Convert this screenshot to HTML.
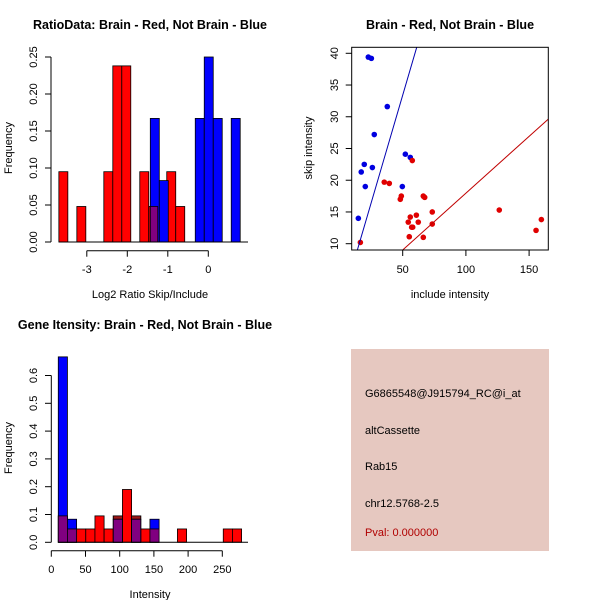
<!DOCTYPE html>
<html><head><meta charset="utf-8"><style>
body{margin:0;background:#fff}
svg{display:block;font-family:"Liberation Sans",Arial,sans-serif}
</style></head><body>
<svg id="s" width="600" height="600" xmlns="http://www.w3.org/2000/svg">
<rect width="600" height="600" fill="#fff"/>
<text x="150" y="29" text-anchor="middle" font-size="12.5" font-weight="bold">RatioData: Brain - Red, Not Brain - Blue</text>
<text x="450" y="29" text-anchor="middle" font-size="12.5" font-weight="bold">Brain - Red, Not Brain - Blue</text>
<text x="145" y="329" text-anchor="middle" font-size="12.5" font-weight="bold">Gene Itensity: Brain - Red, Not Brain - Blue</text>
<g id="p1"></g>
<g id="p2"></g>
<g id="p3"></g>
<g>
<rect x="351" y="349" width="198" height="202" fill="#e6c8c0"/>
<text x="365" y="397" font-size="11">G6865548@J915794_RC@i_at</text>
<text x="365" y="434" font-size="11">altCassette</text>
<text x="365" y="470" font-size="11">Rab15</text>
<text x="365" y="507" font-size="11">chr12.5768-2.5</text>
<text x="365" y="536" font-size="11" fill="#b00000">Pval: 0.000000</text>
</g>
</svg>
<script>
// Panel 1 data
const ratioRedStart=-3.69, ratioBinW=0.222;
const ratioRed=[0.095,0,0.048,0,0,0.095,0.238,0.238,0,0.095,0.048,0,0.095,0.048];
const ratioBlueStart=-1.432;
const ratioBlue=[0.167,0.083,0,0,0,0.167,0.25,0.167,0,0.167];
const ratioYTicks=[0,0.05,0.10,0.15,0.20,0.25];
const ratioYLabels=["0.00","0.05","0.10","0.15","0.20","0.25"];
const ratioXTicks=[-3,-2,-1,0];
// Panel 2 data
const blueX=[22.8,25.2,37.8,27.5,52.1,56.0,19.6,26.0,17.2,20.4,49.7,14.9];
const blueY=[39.4,39.2,31.6,27.2,24.1,23.6,22.5,22.0,21.3,19.0,19.0,14.0];
const redX=[16.5,57.6,35.4,39.4,48.9,48.1,66.3,67.4,73.4,60.8,56.0,54.4,62.3,57.1,57.9,73.4,55.2,66.3,126.4,155.5,159.7];
const redY=[10.2,23.1,19.7,19.5,17.5,17.0,17.5,17.3,15.0,14.5,14.2,13.4,13.4,12.6,12.6,13.1,11.1,11.0,15.3,12.1,13.8];
const blueLine=[-0.6,0.68];
const redLine=[0.06,0.179];
const scXTicks=[50,100,150];
const scYTicks=[10,15,20,25,30,35,40];
// Panel 3 data
const intStart=10.2, intBinW=13.4;
const intRed=[0.095,0.048,0.048,0.048,0.095,0.048,0.095,0.19,0.095,0.048,0.048,0,0,0.048,0,0,0,0,0.048,0.048];
const intBlue=[0.667,0.083,0,0,0,0,0.083,0,0.083,0,0.083];
const intYTicks=[0,0.1,0.2,0.3,0.4,0.5,0.6];
const intYLabels=["0.0","0.1","0.2","0.3","0.4","0.5","0.6"];
const intXTicks=[0,50,100,150,200,250];

const NS="http://www.w3.org/2000/svg";
function el(p,t,a,txt){const e=document.createElementNS(NS,t);for(const k in a)e.setAttribute(k,a[k]);if(txt!==undefined)e.textContent=txt;p.appendChild(e);return e;}

function hist(g,sx,sy,redStart,redW,red,blueStart,blueW,blue){
  const y0=sy(0);
  red.forEach((v,i)=>{if(!v)return;const x0=sx(redStart+i*redW),x1=sx(redStart+(i+1)*redW);
    const r=el(g,'rect',{x:x0,y:sy(v),width:x1-x0,height:y0-sy(v),fill:'#ff0000',stroke:'#000','stroke-width':0.8});
    });
  blue.forEach((v,i)=>{if(!v)return;const a=blueStart+i*blueW,b=a+blueW;const x0=sx(a),x1=sx(b);
    const r=el(g,'rect',{x:x0,y:sy(v),width:x1-x0,height:y0-sy(v),fill:'#0000ff',stroke:'#000','stroke-width':0.8});
    
    red.forEach((rv,j)=>{if(!rv)return;const ra=redStart+j*redW,rb=ra+redW;
      const lo=Math.max(a,ra),hi=Math.min(b,rb);if(hi-lo<blueW*0.5)return;
      const m=Math.min(v,rv);
      if(rv>v){const s=el(g,'rect',{x:sx(lo),y:sy(rv),width:sx(hi)-sx(lo),height:sy(v)-sy(rv),fill:'#a01818',stroke:'#000','stroke-width':0.8});
        }
      const o=el(g,'rect',{x:sx(lo),y:sy(m),width:sx(hi)-sx(lo),height:y0-sy(m),fill:'#800080',stroke:'#000','stroke-width':0.8});
      });
  });
}

// Panel 1
(function(){
  const g=document.getElementById('p1');
  const sx=v=>208.3+v*40.5, sy=v=>242-v*740;
  hist(g,sx,sy,ratioRedStart,ratioBinW,ratioRed,ratioBlueStart,ratioBinW,ratioBlue);
  el(g,'line',{x1:58.7,x2:248,y1:242,y2:242,stroke:'#000'});
  el(g,'line',{x1:51,x2:51,y1:sy(0),y2:sy(0.25),stroke:'#000'});
  ratioYTicks.forEach((t,i)=>{el(g,'line',{x1:45,x2:51,y1:sy(t),y2:sy(t),stroke:'#000'});
    const tx=el(g,'text',{x:37,y:sy(t),'font-size':11,'text-anchor':'middle',transform:`rotate(-90 37 ${sy(t)})`},ratioYLabels[i]);
    });
  const ay=250.7;
  el(g,'line',{x1:sx(ratioXTicks[0]),x2:sx(ratioXTicks[ratioXTicks.length-1]),y1:ay,y2:ay,stroke:'#000'});
  ratioXTicks.forEach(t=>{el(g,'line',{x1:sx(t),x2:sx(t),y1:ay,y2:ay+6,stroke:'#000'});
    const tx=el(g,'text',{x:sx(t),y:273,'font-size':11,'text-anchor':'middle'},String(t));
    });
  const xl=el(g,'text',{x:150,y:298,'font-size':11,'text-anchor':'middle'},'Log2 Ratio Skip/Include');
  
  const yl=el(g,'text',{x:12,y:148,'font-size':11,'text-anchor':'middle',transform:'rotate(-90 12 148)'},'Frequency');
  
})();

// Panel 2
(function(){
  const g=document.getElementById('p2');
  const L=351.7,R=548.3,T=47.3,B=250;
  const sx=v=>339.5+v*1.264, sy=v=>243.7-(v-10)*6.347;
  const xmin=(L-339.5)/1.264,xmax=(R-339.5)/1.264;
  el(g,'defs',{}).innerHTML='<clipPath id="c2"><rect x="351.7" y="47.3" width="196.6" height="202.7"/></clipPath>';
  const cg=el(g,'g',{'clip-path':'url(#c2)'});
  blueX.forEach((x,i)=>{const c=el(cg,'circle',{cx:sx(x),cy:sy(blueY[i]),r:2.8,fill:'#0000e0'});
    });
  redX.forEach((x,i)=>{const c=el(cg,'circle',{cx:sx(x),cy:sy(redY[i]),r:2.8,fill:'#e00000'});
    });
  const bl=el(cg,'line',{x1:sx(xmin),y1:sy(blueLine[0]+blueLine[1]*xmin),x2:sx(xmax),y2:sy(blueLine[0]+blueLine[1]*xmax),stroke:'#0000b0','stroke-width':1});
  
  const rl=el(cg,'line',{x1:sx(xmin),y1:sy(redLine[0]+redLine[1]*xmin),x2:sx(xmax),y2:sy(redLine[0]+redLine[1]*xmax),stroke:'#c00000','stroke-width':1});
  
  el(g,'rect',{x:L,y:T,width:R-L,height:B-T,fill:'none',stroke:'#000'});
  scXTicks.forEach(t=>{el(g,'line',{x1:sx(t),x2:sx(t),y1:B,y2:B+6,stroke:'#000'});
    const tx=el(g,'text',{x:sx(t),y:273,'font-size':11,'text-anchor':'middle'},String(t));
    });
  scYTicks.forEach(t=>{el(g,'line',{x1:L-6,x2:L,y1:sy(t),y2:sy(t),stroke:'#000'});
    const tx=el(g,'text',{x:338,y:sy(t),'font-size':11,'text-anchor':'middle',transform:`rotate(-90 338 ${sy(t)})`},String(t));
    });
  const xl=el(g,'text',{x:450,y:298,'font-size':11,'text-anchor':'middle'},'include intensity');
  
  const yl=el(g,'text',{x:312,y:148,'font-size':11,'text-anchor':'middle',transform:'rotate(-90 312 148)'},'skip intensity');
  
})();

// Panel 3
(function(){
  const g=document.getElementById('p3');
  const sx=v=>51.3+v*0.684, sy=v=>542.3-v*278;
  hist(g,sx,sy,intStart,intBinW,intRed,intStart,intBinW,intBlue);
  el(g,'line',{x1:58.3,x2:248,y1:542.3,y2:542.3,stroke:'#000'});
  el(g,'line',{x1:51.3,x2:51.3,y1:sy(0),y2:sy(0.6),stroke:'#000'});
  intYTicks.forEach((t,i)=>{el(g,'line',{x1:45,x2:51.3,y1:sy(t),y2:sy(t),stroke:'#000'});
    const tx=el(g,'text',{x:37,y:sy(t),'font-size':11,'text-anchor':'middle',transform:`rotate(-90 37 ${sy(t)})`},intYLabels[i]);
    });
  const ay=550.7;
  el(g,'line',{x1:sx(0),x2:sx(250),y1:ay,y2:ay,stroke:'#000'});
  intXTicks.forEach(t=>{el(g,'line',{x1:sx(t),x2:sx(t),y1:ay,y2:ay+6,stroke:'#000'});
    const tx=el(g,'text',{x:sx(t),y:573,'font-size':11,'text-anchor':'middle'},String(t));
    });
  const xl=el(g,'text',{x:150,y:598,'font-size':11,'text-anchor':'middle'},'Intensity');
  
  const yl=el(g,'text',{x:12,y:448,'font-size':11,'text-anchor':'middle',transform:'rotate(-90 12 448)'},'Frequency');
  
})();
</script>
</body></html>
